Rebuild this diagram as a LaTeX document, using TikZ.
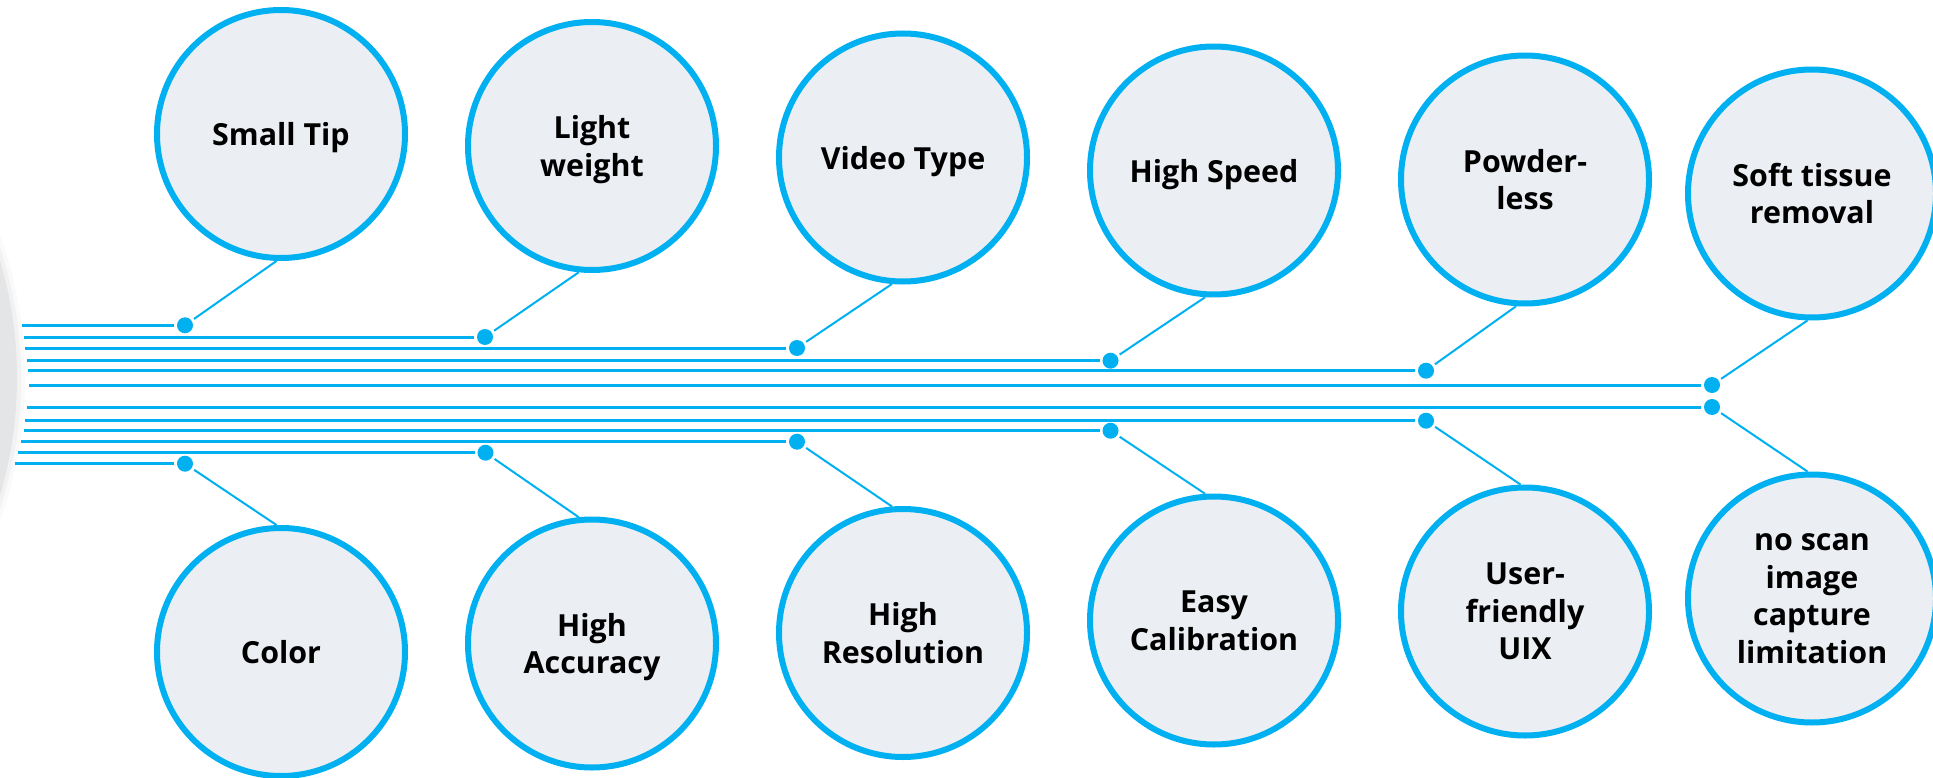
\documentclass[tikz,border=0pt]{standalone}
\usepackage{fontspec}
\setmainfont{Open Sans}
\definecolor{sky}{HTML}{00B0F0}
\definecolor{bubble}{HTML}{EBEEF3}
\definecolor{hub}{HTML}{E4E5E7}

\begin{document}
\begin{tikzpicture}[x=1pt,y=-1pt,
	every node/.style={circle,draw=sky,line width=6pt,fill=bubble,minimum size=248pt,inner sep=0pt,align=center,text depth=0pt,font=\fontsize{30.4}{37.5}\selectfont\bfseries},
	tapdot/.style={circle,draw=none,fill=sky,minimum size=16pt,inner sep=0pt},
	wire/.style={sky,line width=3pt},
	conn/.style={sky,line width=2pt}]
	\useasboundingbox (0,0) rectangle (1933,778);
	\clip (0,0) rectangle (1933,778);

	%hub at the left edge
	\fill[black!2] (-394,378) circle (419);
	\fill[black!5] (-394,378) circle (415);
	\fill[hub] (-394,378) circle (411);

	%top nodes
	\node (t1) at (281,134) {Small Tip};
	\node (t2) at (592,146) {Light\\weight};
	\node (t3) at (903,157.5) {Video Type};
	\node (t4) at (1214,170.5) {High Speed};
	\node (t5) at (1525,179.5) {Powder-\\less};
	\node (t6) at (1812,193.5) {Soft tissue\\removal};

	%bottom nodes
	\node (b1) at (281,652) {Color};
	\node (b2) at (592,643.5) {High\\Accuracy};
	\node (b3) at (903,633) {High\\Resolution};
	\node (b4) at (1214,620.5) {Easy\\Calibration};
	\node (b5) at (1525,611.5) {User-\\friendly\\UIX};
	\node (b6) at (1812,598.5) {no scan\\image\\capture\\limitation};

	%dots
	\node[tapdot] (dt1) at (185,325.3) {};
	\node[tapdot] (dt2) at (485,337) {};
	\node[tapdot] (dt3) at (797,348) {};
	\node[tapdot] (dt4) at (1110.5,360.7) {};
	\node[tapdot] (dt5) at (1426,370.7) {};
	\node[tapdot] (dt6) at (1712,385) {};
	\node[tapdot] (db1) at (185,463.7) {};
	\node[tapdot] (db2) at (485.5,452.7) {};
	\node[tapdot] (db3) at (797,441.7) {};
	\node[tapdot] (db4) at (1110.5,430.7) {};
	\node[tapdot] (db5) at (1426,420.7) {};
	\node[tapdot] (db6) at (1712,407) {};

	%line starts
	\coordinate (st1) at (22,325.3);
	\coordinate (st2) at (24,337);
	\coordinate (st3) at (25,348);
	\coordinate (st4) at (27,360.7);
	\coordinate (st5) at (28,370.7);
	\coordinate (st6) at (29,385);
	\coordinate (sb1) at (15,463.7);
	\coordinate (sb2) at (18,452.7);
	\coordinate (sb3) at (21,441.7);
	\coordinate (sb4) at (24,430.7);
	\coordinate (sb5) at (25,420.7);
	\coordinate (sb6) at (27,407);

	%edges
	\draw[wire] (st1) -- (dt1);
	\draw[wire] (st2) -- (dt2);
	\draw[wire] (st3) -- (dt3);
	\draw[wire] (st4) -- (dt4);
	\draw[wire] (st5) -- (dt5);
	\draw[wire] (st6) -- (dt6);
	\draw[wire] (sb1) -- (db1);
	\draw[wire] (sb2) -- (db2);
	\draw[wire] (sb3) -- (db3);
	\draw[wire] (sb4) -- (db4);
	\draw[wire] (sb5) -- (db5);
	\draw[wire] (sb6) -- (db6);

	\draw[conn] (dt1) -- (t1.-92);
	\draw[conn] (dt2) -- (t2.-96);
	\draw[conn] (dt3) -- (t3.-95);
	\draw[conn] (dt4) -- (t4.-94);
	\draw[conn] (dt5) -- (t5.-94);
	\draw[conn] (dt6) -- (t6.-92);
	\draw[conn] (db1) -- (b1.92);
	\draw[conn] (db2) -- (b2.96);
	\draw[conn] (db3) -- (b3.95);
	\draw[conn] (db4) -- (b4.94);
	\draw[conn] (db5) -- (b5.92);
	\draw[conn] (db6) -- (b6.92);
\end{tikzpicture}
\end{document}
